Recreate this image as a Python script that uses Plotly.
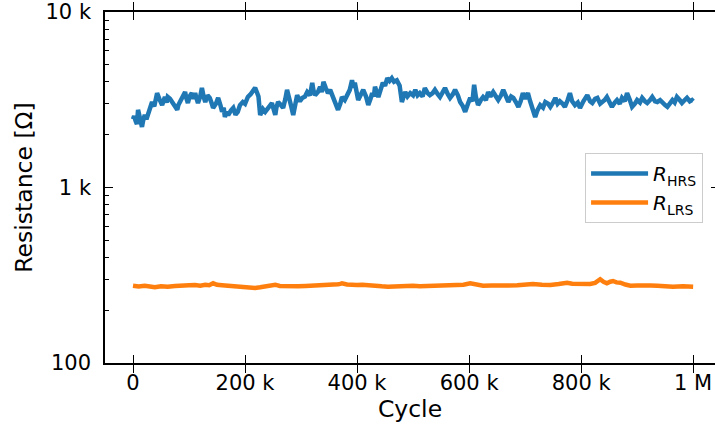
import plotly.graph_objects as go

# Endurance data: resistance of the high and low resistance states vs. cycle count (k cycles, ohm)
hrs_cycles_k = [
    0, 2, 5, 7, 9, 12, 16, 18, 21, 24, 27, 30, 34, 38, 43, 47, 52, 55, 57, 60, 62, 66, 70, 75,
    79, 81, 84, 88, 93, 95, 98, 101, 105, 108, 111, 113, 116, 120, 123, 126, 129, 133, 137, 140,
    143, 148, 152, 156, 159, 162, 164, 167, 170, 175, 179, 183, 187, 191, 196, 200, 205, 210, 214,
    218, 221, 224, 227, 232, 236, 242, 248, 251, 254, 256, 259, 264, 268, 272, 275, 278, 280, 283,
    286, 290, 293, 298, 302, 307, 311, 316, 320, 322, 325, 330, 334, 337, 340, 344, 348, 352, 357,
    362, 366, 370, 373, 378, 382, 387, 391, 394, 396, 399, 402, 407, 411, 416, 420, 424, 427, 430,
    432, 435, 438, 442, 446, 450, 454, 458, 462, 466, 471, 476, 480, 483, 486, 490, 495, 500, 504,
    508, 512, 517, 521, 526, 530, 535, 539, 544, 548, 552, 557, 562, 566, 571, 575, 580, 584, 589,
    593, 598, 602, 606, 609, 612, 616, 621, 625, 630, 634, 638, 643, 648, 652, 657, 661, 666, 670,
    675, 679, 684, 688, 692, 696, 700, 705, 709, 712, 715, 718, 722, 727, 732, 736, 741, 745, 750,
    754, 758, 762, 767, 771, 776, 780, 784, 789, 794, 798, 804, 811, 816, 820, 825, 829, 834, 838,
    842, 846, 851, 855, 860, 864, 869, 873, 878, 882, 887, 891, 896, 900, 905, 909, 914, 918, 923,
    927, 932, 936, 941, 945, 950, 954, 959, 963, 967, 971, 976, 980, 985, 989, 994, 998, 1000,
]
hrs_ohm = [
    2450, 2550, 2380, 2300, 2770, 2450, 2215, 2400, 2590, 2450, 2600, 2800, 3070, 2900, 3450, 3200,
    2950, 3150, 3280, 3050, 3280, 3200, 3070, 2900, 2770, 2950, 3070, 3300, 3500, 3250, 3030, 3300,
    3450, 3200, 3450, 3250, 3030, 3300, 3690, 3300, 3070, 3350, 3240, 3050, 2840, 3000, 3240, 2950,
    2700, 2850, 2520, 2700, 2590, 2750, 2840, 2600, 2700, 2950, 3070, 3000, 3280, 3400, 3600, 3700,
    3500, 3300, 2590, 2800, 2700, 2900, 3030, 2800, 2590, 2850, 3070, 2950, 2840, 3200, 3600, 3300,
    3150, 2850, 2590, 3000, 3360, 3100, 3240, 3300, 3500, 3350, 3950, 3600, 3360, 3500, 3750, 3500,
    4000, 3700, 3450, 3600, 3280, 3100, 2770, 3000, 3280, 3150, 3360, 3600, 4080, 3700, 3950, 3500,
    3150, 3400, 3600, 3300, 2950, 3200, 3450, 3300, 3750, 3500, 3280, 3600, 3950, 3800, 4200, 4050,
    4200, 4000, 4080, 3800, 3070, 3300, 3500, 3300, 3450, 3350, 3600, 3350, 3450, 3300, 3690, 3450,
    3360, 3450, 3600, 3400, 3280, 3450, 3690, 3400, 3240, 3400, 3600, 3350, 3070, 2900, 2700, 3000,
    3240, 3100, 3850, 3300, 2950, 3150, 3280, 3150, 3500, 3300, 3500, 3300, 3150, 3350, 3600, 3300,
    3070, 3300, 3240, 3050, 2880, 3100, 3450, 3200, 3450, 3100, 2840, 2700, 2520, 2750, 2950, 2850,
    3070, 3000, 2880, 3050, 3240, 3000, 3100, 3000, 2880, 3150, 3450, 3100, 2950, 3050, 2840, 3100,
    3360, 3100, 3030, 3200, 3240, 3000, 3070, 3150, 3280, 3050, 2880, 3050, 3150, 3000, 3240, 3100,
    3450, 3150, 2880, 3000, 3150, 3050, 3240, 3100, 3030, 3150, 3280, 3100, 3070, 3150, 3030, 2950,
    2880, 3000, 3150, 3050, 3280, 3150, 3030, 3150, 3240, 3100, 3150, 3100,
]

lrs_cycles_k = [
    0, 10, 21, 30, 39, 50, 62, 75, 87, 100, 111, 120, 129, 136, 143, 150, 159, 170, 182, 191, 200,
    209, 218, 227, 236, 245, 254, 262, 271, 283, 295, 308, 320, 331, 343, 355, 366, 370, 373, 382,
    391, 400, 409, 420, 432, 444, 455, 468, 480, 490, 500, 512, 525, 540, 554, 566, 579, 590, 602,
    613, 625, 640, 655, 670, 686, 700, 714, 730, 745, 760, 775, 784, 793, 805, 816, 825, 834, 840,
    846, 852, 857, 863, 870, 879, 888, 900, 911, 924, 936, 950, 964, 982, 1000,
]
lrs_ohm = [
    275.8, 273.0, 275.8, 272.0, 270.0, 273.5, 272.2, 275.0, 274.7, 277.0, 278.3, 276.0, 279.4,
    277.5, 284.5, 279.0, 277.2, 275.0, 274.7, 273.0, 272.2, 270.5, 267.6, 270.0, 272.2, 274.5,
    279.4, 275.0, 273.5, 275.0, 273.5, 274.5, 275.8, 274.0, 277.2, 278.5, 280.8, 282.5, 284.5,
    280.0, 277.2, 278.5, 279.4, 276.5, 274.7, 273.5, 272.2, 274.0, 274.7, 276.5, 275.8, 273.5,
    274.7, 276.0, 277.2, 275.5, 277.2, 279.5, 284.5, 278.5, 275.8, 276.5, 274.7, 276.0, 277.2,
    279.0, 281.9, 279.5, 278.3, 282.0, 286.8, 283.0, 281.9, 283.5, 281.9, 286.0, 299.9, 290.0,
    284.5, 290.5, 293.2, 288.0, 286.8, 280.0, 275.8, 276.5, 274.7, 276.0, 275.8, 273.5, 272.2,
    273.5, 272.2,
]

x_tick_vals = [0, 200_000, 400_000, 600_000, 800_000, 1_000_000]
x_tick_text = ["0", "200 k", "400 k", "600 k", "800 k", "1 M"]
y_tick_vals = [100, 1000, 10000]
y_tick_text = ["100", "1 k", "10 k"]
y_minor_vals = [m * d for d in (100, 1000) for m in range(2, 10)]

FONT = "DejaVu Sans"

fig = go.Figure()
fig.add_trace(go.Scatter(
    x=[c * 1000 for c in hrs_cycles_k], y=hrs_ohm, mode="lines",
    line=dict(color="#1f77b4", width=4.5),
    name="<i>R</i><sub>HRS</sub>",
))
fig.add_trace(go.Scatter(
    x=[c * 1000 for c in lrs_cycles_k], y=lrs_ohm, mode="lines",
    line=dict(color="#ff7f0e", width=4.5),
    name="<i>R</i><sub>LRS</sub>",
))
# empty trace that anchors the right-hand tick axis
fig.add_trace(go.Scatter(x=[None], y=[None], yaxis="y2", showlegend=False, hoverinfo="skip"))

axis_common = dict(
    showgrid=False, zeroline=False, showline=True, linecolor="black", linewidth=1.5,
    ticks="inside", ticklen=8, tickwidth=1.3, tickcolor="black",
    tickfont=dict(family=FONT, size=21, color="black"),
)

fig.update_layout(
    width=715, height=433,
    margin=dict(l=105, r=0, t=12, b=70),
    paper_bgcolor="white", plot_bgcolor="white",
    font=dict(family=FONT, color="black"),
    xaxis=dict(
        **axis_common,
        range=[-50_000, 1_039_000], mirror="allticks",
        tickvals=x_tick_vals, ticktext=x_tick_text, ticklabelstandoff=0,
        title=dict(text="Cycle", font=dict(family=FONT, size=23.5), standoff=6),
    ),
    yaxis=dict(
        **axis_common,
        type="log", range=[2, 4], mirror=False,
        tickvals=y_tick_vals, ticktext=y_tick_text, ticklabelstandoff=8,
        minor=dict(ticks="inside", ticklen=4, tickwidth=1.1, tickcolor="black",
                   tickvals=y_minor_vals),
        title=dict(text="Resistance [Ω]", font=dict(family=FONT, size=23.5), standoff=6),
    ),
    yaxis2=dict(
        overlaying="y", side="right", type="log", range=[2, 4],
        showgrid=False, zeroline=False, showline=False, showticklabels=False,
        ticks="inside", ticklen=4, tickwidth=1.3, tickcolor="black",
        tickvals=y_tick_vals,
    ),
    legend=dict(
        x=0.787, y=0.598, xanchor="left", yanchor="top",
        bgcolor="rgba(255,255,255,0.8)", bordercolor="#cccccc", borderwidth=1,
        font=dict(family=FONT, size=20, color="black"),
        itemwidth=57,
    ),
    showlegend=True,
)

fig.write_html("out.html")
